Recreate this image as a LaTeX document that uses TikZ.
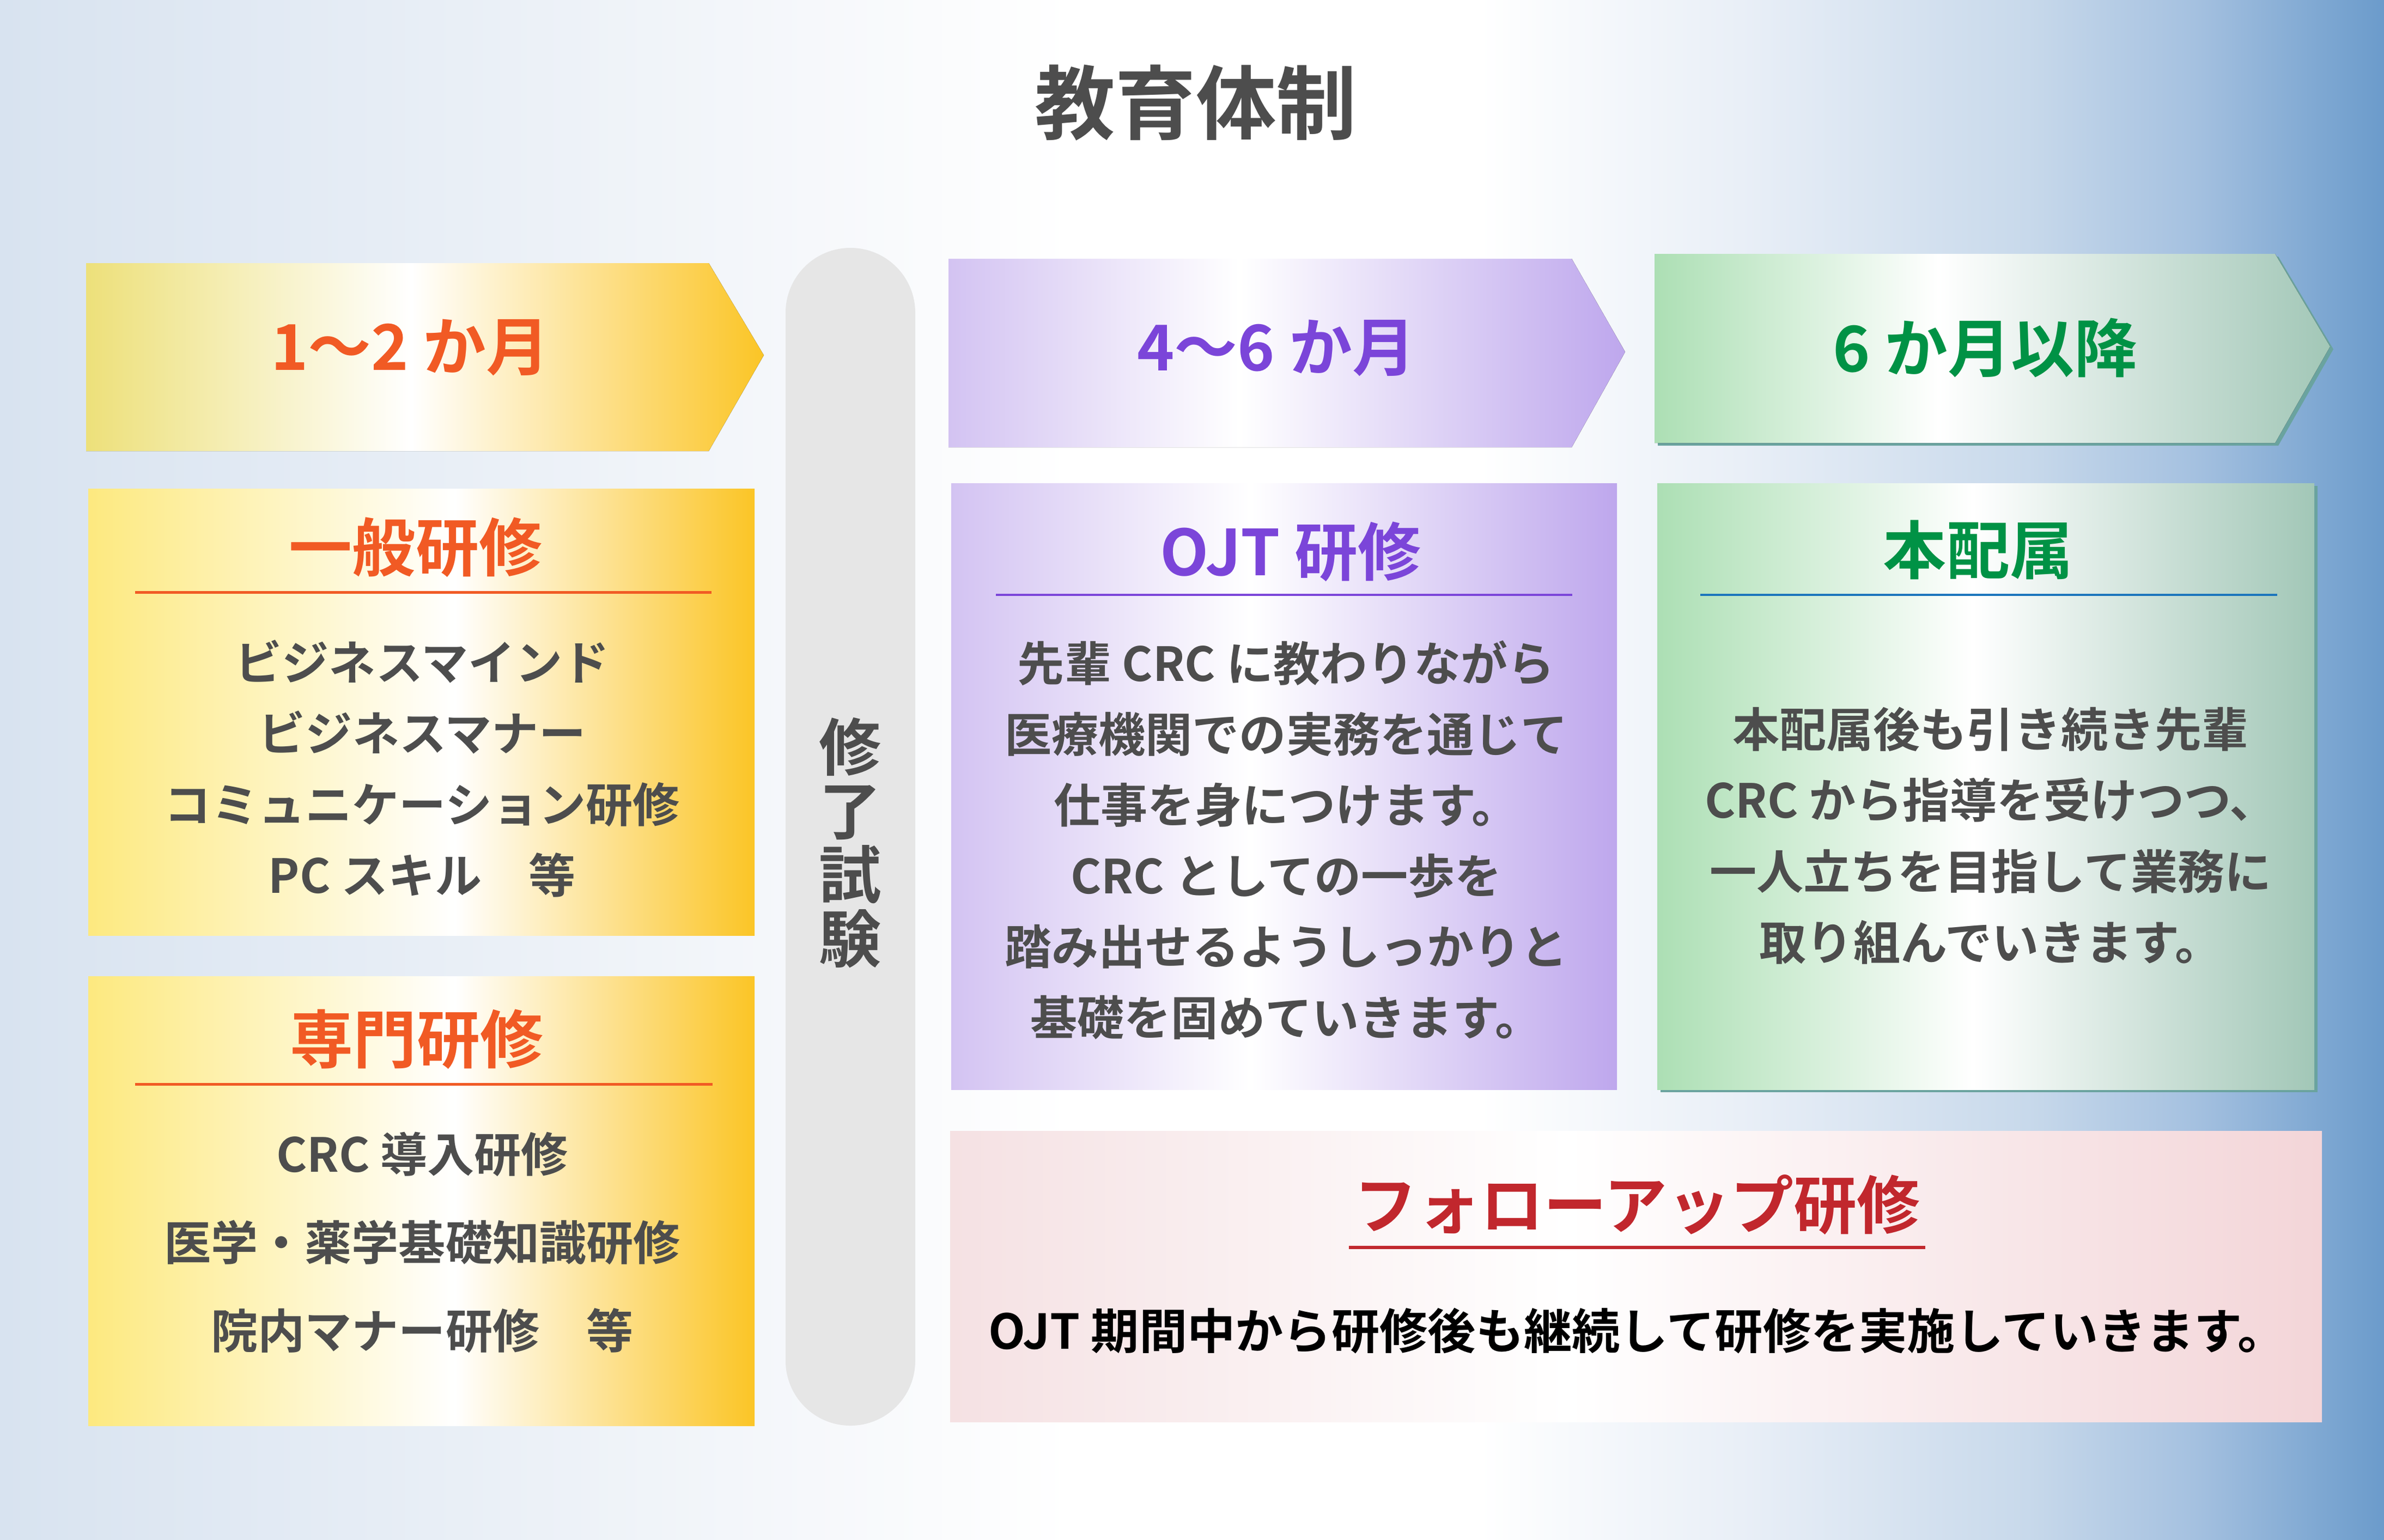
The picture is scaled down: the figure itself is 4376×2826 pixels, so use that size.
\documentclass[tikz,border=0pt]{standalone}
\usepackage{fontspec}
\setmainfont{Noto Sans CJK JP}[BoldFont={* Bold}]
\usepackage{tikz}

\definecolor{bgA}{HTML}{D8E3F0}
\definecolor{bgB}{HTML}{F6F8FB}
\definecolor{bgC}{HTML}{E9EFF7}
\definecolor{bgD}{HTML}{C8D9EB}
\definecolor{bgE}{HTML}{A5C1E0}
\definecolor{bgF}{HTML}{6B9BCB}
\definecolor{yelL}{HTML}{EDE07A}
\definecolor{yelBL}{HTML}{FDE97F}
\definecolor{yelR}{HTML}{FBC526}
\definecolor{purL}{HTML}{D3C3F2}
\definecolor{purR}{HTML}{BEA7ED}
\definecolor{grnL}{HTML}{ACDFB4}
\definecolor{grnR}{HTML}{A2C7B7}
\definecolor{pnkL}{HTML}{F5E1E3}
\definecolor{pnkR}{HTML}{F3D5D8}
\definecolor{gshadow}{HTML}{6AA39F}
\definecolor{examgrey}{HTML}{E6E6E6}
\definecolor{txtgrey}{HTML}{4D4D4D}
\definecolor{orangeT}{HTML}{F15A24}
\definecolor{purpleT}{HTML}{7B45D9}
\definecolor{greenT}{HTML}{009245}
\definecolor{blueL}{HTML}{1B75BC}
\definecolor{redT}{HTML}{C1272D}

\pgfdeclarehorizontalshading{bgshade}{100bp}{color(0bp)=(bgA); color(25bp)=(bgA); color(42bp)=(bgB); color(47.5bp)=(white); color(56bp)=(white); color(61.5bp)=(bgC); color(67.5bp)=(bgD); color(71bp)=(bgE); color(75bp)=(bgF); color(100bp)=(bgF)}
\pgfdeclarehorizontalshading{yelarrow}{100bp}{color(0bp)=(yelL); color(25bp)=(yelL); color(49bp)=(white); color(75bp)=(yelR); color(100bp)=(yelR)}
\pgfdeclarehorizontalshading{yelbox}{100bp}{color(0bp)=(yelBL); color(25bp)=(yelBL); color(52.5bp)=(white); color(75bp)=(yelR); color(100bp)=(yelR)}
\pgfdeclarehorizontalshading{purarrow}{100bp}{color(0bp)=(purL); color(25bp)=(purL); color(46.5bp)=(white); color(75bp)=(purR); color(100bp)=(purR)}
\pgfdeclarehorizontalshading{purbox}{100bp}{color(0bp)=(purL); color(25bp)=(purL); color(47.5bp)=(white); color(75bp)=(purR); color(100bp)=(purR)}
\pgfdeclarehorizontalshading{grnarrow}{100bp}{color(0bp)=(grnL); color(25bp)=(grnL); color(46bp)=(white); color(75bp)=(grnR); color(100bp)=(grnR)}
\pgfdeclarehorizontalshading{grnbox}{100bp}{color(0bp)=(grnL); color(25bp)=(grnL); color(49bp)=(white); color(75bp)=(grnR); color(100bp)=(grnR)}
\pgfdeclarehorizontalshading{pnkbox}{100bp}{color(0bp)=(pnkL); color(25bp)=(pnkL); color(47.5bp)=(white); color(75bp)=(pnkR); color(100bp)=(pnkR)}

\begin{document}
\begin{tikzpicture}[x = 0.01cm, y = -0.01cm,
  phase/.style = {font = \fontsize{33}{40}\selectfont\bfseries, inner sep = 0},
  heading/.style = {font = \fontsize{33}{40}\selectfont\bfseries, inner sep = 0},
  body/.style = {font = \fontsize{24.5}{37}\selectfont\bfseries, text = txtgrey, align = center, inner sep = 0},
  uline/.style = {line width = 0.05cm}]
\useasboundingbox (0,0) rectangle (4376,2826);
\fill[shading = bgshade] (0,0) rectangle (4376,2826);

\node[font = \fontsize{42}{50}\selectfont\bfseries, text = txtgrey, inner sep = 0] (ttl) at (2195,189) {教育体制};

% 1-2 months
\fill[shading = yelarrow] (158,483) -- (1301,483) -- (1402,652) -- (1301,828) -- (158,828) -- cycle;
\node[phase, text = orangeT] (m12) at (753,638) {1〜2 か月};

\fill[shading = yelbox] (162,897) rectangle (1385,1717);
\node[heading, text = orangeT] (ippan) at (763,1005) {一般研修};
\draw[uline, orangeT] (248,1087) -- (1306,1087);
\node[body] (ippanbody) at (775,1411) {ビジネスマインド\\ビジネスマナー\\コミュニケーション研修\\PC スキル　等};

\fill[shading = yelbox] (162,1792) rectangle (1385,2617);
\node[heading, text = orangeT] (senmon) at (765,1908) {専門研修};
\draw[uline, orangeT] (248,1990) -- (1308,1990);
\node[body, font = \fontsize{24.5}{46}\selectfont\bfseries] (senmonbody) at (775,2281) {CRC 導入研修\\医学・薬学基礎知識研修\\院内マナー研修　等};

% exam
\fill[examgrey, rounded corners = 1.19cm] (1442,455) rectangle (1680,2617);
\node[font = \fontsize{32.5}{33.3}\selectfont\bfseries, text = txtgrey, align = center, inner sep = 0] (exam) at (1561,1547) {修\\了\\試\\験};

% 4-6 months
\fill[shading = purarrow] (1741,475) -- (2885,475) -- (2983,646) -- (2885,821) -- (1741,821) -- cycle;
\node[phase, text = purpleT] (m46) at (2343,639) {4〜6 か月};

\fill[shading = purbox] (1746,887) rectangle (2968,2000);
\node[heading, text = purpleT] (ojt) at (2369,1013) {OJT 研修};
\draw[uline, purpleT, line width = 0.035cm] (1828,1092) -- (2886,1092);
\node[body] (ojtbody) at (2361,1542) {先輩 CRC に教わりながら\\医療機関での実務を通じて\\仕事を身につけます。\\CRC としての一歩を\\踏み出せるようしっかりと\\基礎を固めていきます。};

% after 6 months
\fill[gshadow, shift = {(6,5)}] (3037,466) -- (4176,466) -- (4277,636) -- (4176,813) -- (3037,813) -- cycle;
\fill[shading = grnarrow] (3037,466) -- (4176,466) -- (4277,636) -- (4176,813) -- (3037,813) -- cycle;
\node[phase, text = greenT] (m6) at (3644,638) {6 か月以降};

\fill[gshadow] (3048,892) rectangle (4254,2005);
\fill[shading = grnbox] (3042,887) rectangle (4248,2000);
\node[heading, text = greenT] (honhai) at (3631,1009) {本配属};
\draw[uline, blueL, line width = 0.035cm] (3121,1092) -- (4180,1092);
\node[body] (honhaibody) at (3654,1534) {本配属後も引き続き先輩\\CRC から指導を受けつつ、\\一人立ちを目指して業務に\\取り組んでいきます。};

% follow-up
\fill[shading = pnkbox] (1744,2076) rectangle (4262,2610);
\node[heading, text = redT] (follow) at (3005,2212) {フォローアップ研修};
\draw[uline, redT, line width = 0.06cm] (2476,2290) -- (3534,2290);
\node[body, text = black, font = \fontsize{25.1}{37}\selectfont\bfseries] (followbody) at (3005,2443) {OJT 期間中から研修後も継続して研修を実施していきます。};
\end{tikzpicture}
\end{document}
